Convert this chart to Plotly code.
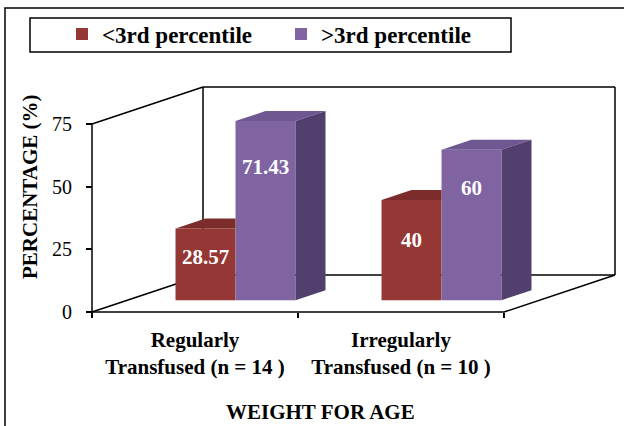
import plotly.graph_objects as go

# ---- data ----
categories = ["Regularly<br>Transfused (n = 14 )", "Irregularly<br>Transfused (n = 10 )"]
series_names = ["<3rd percentile", ">3rd percentile"]
below_3rd = [28.57, 40]
above_3rd = [71.43, 60]
y_ticks = [0, 25, 50, 75]
x_title = "WEIGHT FOR AGE"
y_title = "PERCENTAGE (%)"

# ---- styling ----
FONT = "Liberation Serif, Times New Roman, serif"
front_colors = ["#953735", "#8064A2"]
top_colors = ["#7C2C2B", "#6F5891"]
side_colors = ["#6E2625", "#513F6D"]
label_frac = [0.6, 0.745]  # label height as a share of the bar

# ---- oblique-projection geometry (pixels) ----
W, H = 624, 426
X0_PX, CAT_PX = 92.0, 206.0       # front-plane left edge, width of one category
Y0_PX, PCT_PX = 312.0, 2.507      # front-plane zero line, pixels per percent
DEPTH_DX_PX, DEPTH_DY_PX = 111.0, 37.0
BAR_FRONT = 0.32                  # depth at which bar fronts sit
BAR_DEPTH = 0.27                  # depth of each bar
BAR_W = 60.0 / CAT_PX
GROUP_SHIFT = 5.0 / CAT_PX
Y_MAX = y_ticks[-1]

ddx = DEPTH_DX_PX / CAT_PX
ddy = DEPTH_DY_PX / PCT_PX
n_cat = len(categories)
x_end = float(n_cat)

fig = go.Figure()

series = [below_3rd, above_3rd]
base = BAR_FRONT * ddy
gdx, gdy = BAR_DEPTH * ddx, BAR_DEPTH * ddy
centers = [i + 0.5 + BAR_FRONT * ddx + GROUP_SHIFT for i in range(n_cat)]

for k, vals in enumerate(series):
    offset = -BAR_W if k == 0 else 0.0
    # front faces
    fig.add_trace(go.Bar(
        x=centers, y=vals, base=base, width=BAR_W, offset=offset,
        name=series_names[k], marker=dict(color=front_colors[k], line=dict(width=0)),
        hoverinfo="skip",
    ))
    # top and side faces, built from the same values
    tx, ty, sx, sy = [], [], [], []
    for c, v in zip(centers, vals):
        xl, xr = c + offset, c + offset + BAR_W
        t = base + v
        if k == 0:
            # left bar: the part behind its neighbour is hidden
            tx += [xl, xr, xr, xl + gdx, xl, None]
            ty += [t, t, t + gdy, t + gdy, t, None]
        else:
            tx += [xl, xr, xr + gdx, xl + gdx, xl, None]
            ty += [t, t, t + gdy, t + gdy, t, None]
            sx += [xr, xr + gdx, xr + gdx, xr, xr, None]
            sy += [base, base + gdy, t + gdy, t, base, None]
    fig.add_trace(go.Scatter(x=tx, y=ty, fill="toself", fillcolor=top_colors[k],
                             mode="lines", line=dict(width=0), showlegend=False,
                             hoverinfo="skip"))
    if sx:
        fig.add_trace(go.Scatter(x=sx, y=sy, fill="toself", fillcolor=side_colors[k],
                                 mode="lines", line=dict(width=0), showlegend=False,
                                 hoverinfo="skip"))
    # value labels on the front faces
    for c, v in zip(centers, vals):
        fig.add_annotation(x=c + offset + BAR_W / 2, y=base + v * label_frac[k],
                           text=f"<b>{v:g}</b>", showarrow=False,
                           font=dict(family=FONT, size=21, color="white"))

# ---- 3-D frame ----
line = dict(color="black", width=1.5)
frame = [
    (0, 0, 0, Y_MAX),                              # front value axis
    (0, 0, x_end, 0),                              # front floor edge
    (0, 0, ddx, ddy),                              # left floor edge
    (x_end, 0, x_end + ddx, ddy),                  # right floor edge
    (0, Y_MAX, ddx, ddy + Y_MAX),                  # left wall top edge
    (ddx, ddy, ddx, ddy + Y_MAX),                  # back-left vertical
    (ddx, ddy + Y_MAX, x_end + ddx, ddy + Y_MAX),  # back wall top
    (x_end + ddx, ddy, x_end + ddx, ddy + Y_MAX),  # back-right vertical
    (ddx, ddy, x_end + ddx, ddy),                  # back floor edge
]
for x0, y0, x1, y1 in frame:
    fig.add_shape(type="line", x0=x0, y0=y0, x1=x1, y1=y1, xref="x", yref="y",
                  line=line, layer="below")

# legend frame and outer border
fig.add_shape(type="rect", xref="paper", yref="paper",
              x0=30 / W, x1=511 / W, y0=1 - 52 / H, y1=1 - 18 / H,
              line=dict(color="black", width=1.5), fillcolor="white", layer="below")
fig.add_shape(type="rect", xref="paper", yref="paper",
              x0=5 / W, x1=1.02, y0=-0.02, y1=1 - 8 / H,
              line=dict(color="black", width=1.5), layer="below")

# axis titles
fig.add_annotation(xref="paper", yref="paper", x=320 / W, y=1 - 412 / H,
                   xanchor="center", yanchor="middle",
                   text=f"<b>{x_title}</b>", showarrow=False,
                   font=dict(family=FONT, size=21, color="black"))
fig.add_annotation(xref="paper", yref="paper", x=30 / W, y=1 - 187 / H,
                   xanchor="center", yanchor="middle",
                   text=f"<b>{y_title}</b>", showarrow=False, textangle=-90,
                   font=dict(family=FONT, size=21, color="black"))

fig.update_layout(
    width=W, height=H,
    margin=dict(l=0, r=0, t=0, b=0),
    paper_bgcolor="white", plot_bgcolor="rgba(0,0,0,0)",
    barmode="overlay",
    showlegend=True,
    legend=dict(orientation="h", x=62 / W, xanchor="left", y=1 - 34 / H, yanchor="middle",
                bgcolor="rgba(0,0,0,0)", borderwidth=0,
                entrywidth=174, entrywidthmode="pixels",
                font=dict(family=FONT, size=23, color="black", weight="bold")),
    xaxis=dict(
        range=[-X0_PX / CAT_PX, (W - X0_PX) / CAT_PX],
        tickvals=[i + 0.5 for i in range(n_cat)], ticktext=[f"<b>{c}</b>" for c in categories],
        ticks="", showline=False, showgrid=False, zeroline=False,
        anchor="free", position=(H - Y0_PX) / H,
        ticklabelstandoff=13,
        minor=dict(tickmode="array", tickvals=list(range(n_cat + 1)), ticks="outside",
                   ticklen=5, tickwidth=1.5, tickcolor="black", showgrid=False),
        tickfont=dict(family=FONT, size=21, color="black"),
        fixedrange=True,
    ),
    yaxis=dict(
        range=[-(H - Y0_PX) / PCT_PX, Y0_PX / PCT_PX],
        tickvals=y_ticks, ticks="outside", ticklen=6, tickwidth=1.5, tickcolor="black",
        showline=False, showgrid=False, zeroline=False,
        anchor="free", position=X0_PX / W,
        ticklabelstandoff=10,
        tickfont=dict(family=FONT, size=20, color="black"),
        fixedrange=True,
    ),
)

fig.write_html("out.html")
